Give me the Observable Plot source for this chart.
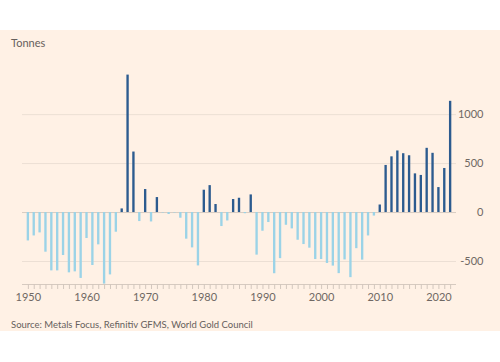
<!DOCTYPE html>
<html>
<head>
<meta charset="utf-8">
<script src="https://cdn.jsdelivr.net/npm/d3@7"></script>
<script src="https://cdn.jsdelivr.net/npm/@observablehq/plot@0.6"></script>
<style>
  html, body { margin: 0; padding: 0; background: #ffffff; width: 500px; height: 362px; overflow: hidden; }
  #wrap { position: absolute; left: 0; top: 30px; width: 500px; height: 301px; background: #fff1e5; font-family: Lato, "Open Sans", sans-serif; }
  #title { position: absolute; left: 11px; top: 6px; font-size: 11px; line-height: 13px; color: #66605c; }
  #chart { position: absolute; left: 0; top: 30px; }
  #source { position: absolute; left: 11px; top: 289px; font-size: 9.5px; line-height: 12px; color: #66605c; white-space: nowrap; }
</style>
</head>
<body>
<div id="wrap">
  <div id="title">Tonnes</div>
  <div id="chart"></div>
  <div id="source">Source: Metals Focus, Refinitiv GFMS, World Gold Council</div>
</div>
<script>
const years = [
  1950,1951,1952,1953,1954,1955,1956,1957,1958,1959,
  1960,1961,1962,1963,1964,1965,1966,1967,1968,1969,
  1970,1971,1972,1973,1974,1975,1976,1977,1978,1979,
  1980,1981,1982,1983,1984,1985,1986,1987,1988,1989,
  1990,1991,1992,1993,1994,1995,1996,1997,1998,1999,
  2000,2001,2002,2003,2004,2005,2006,2007,2008,2009,
  2010,2011,2012,2013,2014,2015,2016,2017,2018,2019,
  2020,2021,2022
];
const tonnes = [
  -290,-239,-208,-405,-596,-596,-439,-616,-606,-673,
  -265,-541,-330,-731,-637,-201,37,1404,618,-92,
  235,-96,153,-5,-20,-5,-58,-272,-361,-545,
  228,275,82,-143,-86,133,146,-12,180,-435,
  -191,-102,-625,-471,-130,-167,-283,-327,-364,-480,
  -480,-520,-547,-624,-484,-665,-369,-486,-239,-36,
  77,481,569,629,601,580,395,379,656,605,
  255,450,1136
];
const yTicks = [-500, 0, 500, 1000];
const decadeLabels = [1950, 1960, 1970, 1980, 1990, 2000, 2010, 2020];

const data = years.map((y, i) => ({year: y, value: tonnes[i]}));
const yMin = -735, yMax = 1410;

const chart = Plot.plot({
  width: 500,
  height: 250,
  marginLeft: 22,
  marginRight: 44,
  marginTop: 14,
  marginBottom: 26,
  style: {background: "transparent", fontFamily: "Lato, 'Open Sans', sans-serif", fontSize: "11px", color: "#66605c"},
  x: {type: "linear", domain: [1949, 2023], label: null},
  y: {domain: [yMin, yMax], label: null},
  marks: [
    Plot.ruleY(yTicks.filter(d => d !== 0), {stroke: "#ecdfd4", strokeWidth: 1}),
    Plot.ruleY([0], {stroke: "#d8ccc2", strokeWidth: 1}),
    Plot.ruleY([yMin], {stroke: "#d6cac0", strokeWidth: 1}),
    Plot.rectY(data.filter(d => d.value < 0), {x1: d => d.year - 0.2, x2: d => d.year + 0.2, y1: 0, y2: "value", fill: "#9bd3e7"}),
    Plot.rectY(data.filter(d => d.value >= 0), {x1: d => d.year - 0.2, x2: d => d.year + 0.2, y1: 0, y2: "value", fill: "#2c5b8f"}),
    Plot.axisX({ticks: years, tickSize: 5, tickPadding: 4, stroke: "#d3c7bd", fill: "#6f6863", fontSize: 11, label: null,
      tickFormat: d => decadeLabels.includes(d) ? String(d) : ""}),
    Plot.axisY({anchor: "right", ticks: yTicks, tickSize: 0, tickPadding: 27, textAnchor: "end", fill: "#6f6863", fontSize: 11, label: null,
      tickFormat: d => String(d)})
  ]
});
document.getElementById("chart").appendChild(chart);
</script>
</body>
</html>
